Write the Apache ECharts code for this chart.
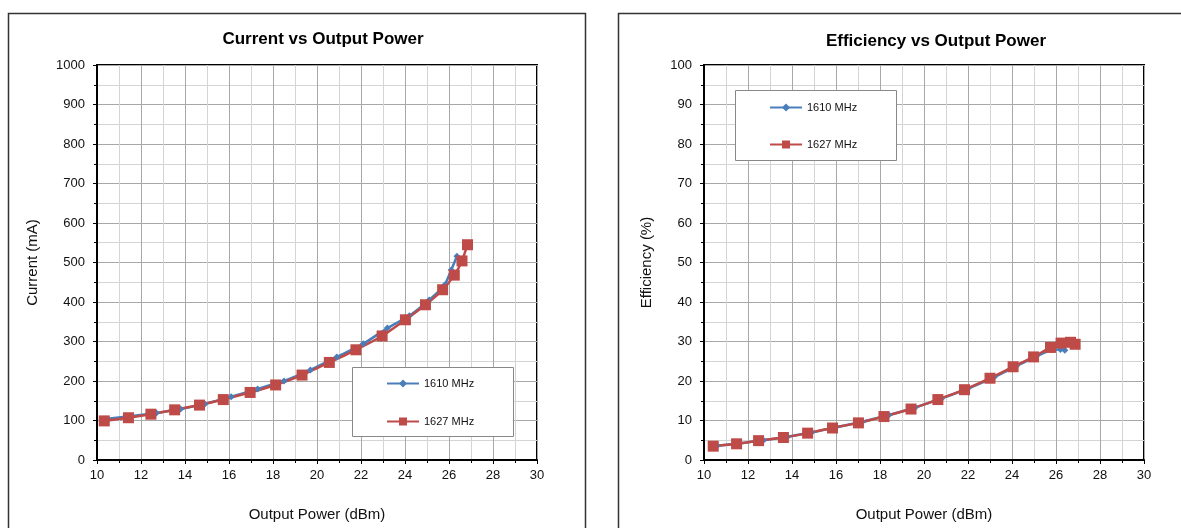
<!DOCTYPE html>
<html><head><meta charset="utf-8">
<script src="https://cdn.jsdelivr.net/npm/echarts@6/dist/echarts.min.js"></script>
<style>html,body{margin:0;padding:0;background:#fff}#c{width:1181px;height:528px}</style>
</head><body><div id="c"></div>
<script>
// Current vs Output Power
const curX1610 = [10.4, 11.5, 12.7, 13.8, 14.9, 16.1, 17.3, 18.5, 19.7, 20.9, 22.1, 23.2, 24.2, 25.1, 25.8, 26.1, 26.36];
const curY1610 = [104, 111, 119, 129, 142, 160, 180, 200, 228, 261, 294, 334, 365, 405, 443, 481, 516];
const curX1627 = [10.33, 11.43, 12.45, 13.53, 14.66, 15.74, 16.96, 18.12, 19.32, 20.56, 21.77, 22.96, 24.02, 24.93, 25.71, 26.24, 26.59, 26.84];
const curY1627 = [99, 107, 116, 127, 139, 153, 171, 190, 215, 247, 279, 314, 355, 393, 431, 468, 504, 545];
// Efficiency vs Output Power
const effX1610 = [10.6, 11.6, 12.7, 13.8, 14.9, 16.0, 17.2, 18.4, 19.6, 20.8, 22.0, 23.2, 24.2, 25.1, 25.8, 26.2, 26.4];
const effY1610 = [3.6, 4.2, 5.0, 5.9, 7.0, 8.3, 9.7, 11.4, 13.3, 15.6, 18.1, 21.0, 23.8, 26.2, 27.9, 28.0, 27.8];
const effX1627 = [10.42, 11.48, 12.48, 13.61, 14.71, 15.84, 17.02, 18.18, 19.41, 20.63, 21.84, 23.0, 24.05, 24.98, 25.75, 26.23, 26.66, 26.87];
const effY1627 = [3.5, 4.1, 4.9, 5.7, 6.8, 8.1, 9.4, 11.0, 12.9, 15.3, 17.8, 20.7, 23.6, 26.1, 28.5, 29.6, 29.8, 29.3];
const seriesNames = ['1610 MHz', '1627 MHz'];
const xTicks = {min: 10, max: 30, interval: 2};
const curTicks = {min: 0, max: 1000, interval: 100};
const effTicks = {min: 0, max: 100, interval: 10};
const titles = ['Current vs Output Power', 'Efficiency vs Output Power'];
const xName = 'Output Power (dBm)';
const yNames = ['Current (mA)', 'Efficiency (%)'];

const zip = (a, b) => a.map((v, i) => [v, b[i]]);
const BLUE = '#4a7ebb', RED = '#be4b48';
const FONT = 'Liberation Sans, Arial, sans-serif';

function xAxis(gi) {
  return {
    type: 'value', gridIndex: gi, min: xTicks.min, max: xTicks.max, interval: xTicks.interval,
    name: xName, nameLocation: 'middle', nameGap: 47,
    nameTextStyle: {fontFamily: FONT, fontSize: 15, color: '#111'},
    axisLine: {show: true, onZero: false, lineStyle: {color: '#000', width: 2}},
    axisTick: {show: true, length: 4, lineStyle: {color: '#000'}},
    minorTick: {show: true, splitNumber: 2, length: 3, lineStyle: {color: '#000'}},
    axisLabel: {fontFamily: FONT, fontSize: 13, color: '#111', margin: 9, formatter: v => String(v)},
    splitLine: {show: true, lineStyle: {color: '#a8a8a8', width: 1}},
    minorSplitLine: {show: true, lineStyle: {color: '#d4d4d4', width: 1}}
  };
}
function yAxis(gi, t, name, gap) {
  return {
    type: 'value', gridIndex: gi, min: t.min, max: t.max, interval: t.interval,
    name: name, nameLocation: 'middle', nameGap: gap, nameRotate: 90,
    nameTextStyle: {fontFamily: FONT, fontSize: 15, color: '#111'},
    axisLine: {show: true, onZero: false, lineStyle: {color: '#000', width: 2}},
    axisTick: {show: true, length: 4, lineStyle: {color: '#000'}},
    minorTick: {show: true, splitNumber: 2, length: 3, lineStyle: {color: '#000'}},
    axisLabel: {fontFamily: FONT, fontSize: 13, color: '#111', margin: 12, formatter: v => String(v)},
    splitLine: {show: true, lineStyle: {color: '#a8a8a8', width: 1}},
    minorSplitLine: {show: true, lineStyle: {color: '#d4d4d4', width: 1}}
  };
}
function s(name, data, gi, color, symbol, size) {
  return {
    name: name, type: 'line', xAxisIndex: gi, yAxisIndex: gi, data: data,
    symbol: symbol, symbolSize: size, showSymbol: true,
    lineStyle: {color: color, width: 2.5}, itemStyle: {color: color},
    smooth: 0.2, animation: false, z: 3
  };
}

const chart = echarts.init(document.getElementById('c'), null, {renderer: 'canvas'});
chart.setOption({
  animation: false,
  backgroundColor: '#fff',
  grid: [
    {left: 97, top: 65, width: 440, height: 395, show: true, borderColor: '#000', borderWidth: 2, backgroundColor: 'transparent'},
    {left: 704, top: 65, width: 440, height: 395, show: true, borderColor: '#000', borderWidth: 2, backgroundColor: 'transparent'}
  ],
  xAxis: [xAxis(0), xAxis(1)],
  yAxis: [yAxis(0, curTicks, yNames[0], 57), yAxis(1, effTicks, yNames[1], 50)],
  legend: [
    {data: seriesNames, orient: 'vertical', left: 386, top: 378, padding: 0, itemGap: 27, itemWidth: 32, itemHeight: 10,
     textStyle: {fontFamily: FONT, fontSize: 11, color: '#111'}, z: 20, selectedMode: false},
    {data: seriesNames, orient: 'vertical', left: 769, top: 102, padding: 0, itemGap: 26, itemWidth: 32, itemHeight: 10,
     textStyle: {fontFamily: FONT, fontSize: 11, color: '#111'}, z: 20, selectedMode: false}
  ],
  graphic: [
    {type: 'rect', shape: {x: 8.5, y: 13.5, width: 577, height: 600}, style: {fill: 'none', stroke: '#333', lineWidth: 1.5}, z: 1},
    {type: 'rect', shape: {x: 618.5, y: 13.5, width: 600, height: 600}, style: {fill: 'none', stroke: '#333', lineWidth: 1.5}, z: 1},
    {type: 'rect', shape: {x: 352.5, y: 367.5, width: 161, height: 69}, style: {fill: '#fff', stroke: '#888', lineWidth: 1}, z: 15},
    {type: 'rect', shape: {x: 735.5, y: 90.5, width: 161, height: 70}, style: {fill: '#fff', stroke: '#888', lineWidth: 1}, z: 15},
    {type: 'text', x: 323, y: 39, style: {text: titles[0], fontFamily: FONT, fontSize: 17, fontWeight: 'bold', fill: '#000', textAlign: 'center', textVerticalAlign: 'middle'}, z: 20},
    {type: 'text', x: 936, y: 41, style: {text: titles[1], fontFamily: FONT, fontSize: 17, fontWeight: 'bold', fill: '#000', textAlign: 'center', textVerticalAlign: 'middle'}, z: 20}
  ],
  series: [
    s(seriesNames[0], zip(curX1610, curY1610), 0, BLUE, 'diamond', 7),
    s(seriesNames[1], zip(curX1627, curY1627), 0, RED, 'rect', 11),
    s(seriesNames[0], zip(effX1610, effY1610), 1, BLUE, 'diamond', 7),
    s(seriesNames[1], zip(effX1627, effY1627), 1, RED, 'rect', 11)
  ]
});
</script></body></html>
